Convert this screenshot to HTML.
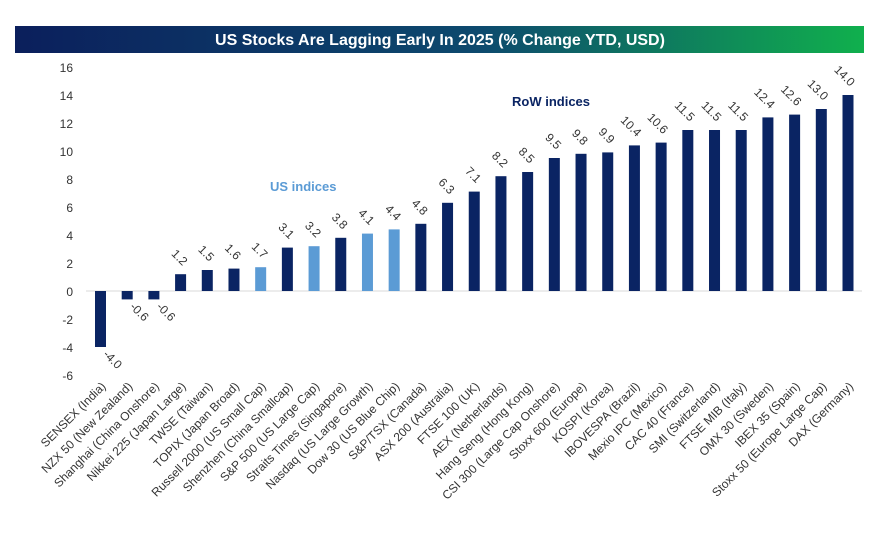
<!DOCTYPE html>
<html><head><meta charset="utf-8"><style>
body{margin:0;background:#fff;}
svg{display:block;font-family:"Liberation Sans",sans-serif;}
</style></head><body>
<svg id="chart" width="892" height="550">
<defs><linearGradient id="tg" x1="0" x2="1" y1="0" y2="0"><stop offset="0" stop-color="#0b1f5c"/><stop offset="0.55" stop-color="#0d4a6e"/><stop offset="1" stop-color="#10b04d"/></linearGradient></defs>
<rect x="15" y="26" width="849" height="27" fill="url(#tg)"/>
<text x="440" y="45" text-anchor="middle" fill="#fff" font-size="16" font-weight="bold">US Stocks Are Lagging Early In 2025 (% Change YTD, USD)</text>
<text x="270" y="191" fill="#5b9bd5" font-size="13" font-weight="bold">US indices</text>
<text x="512" y="106" fill="#0a2463" font-size="13" font-weight="bold">RoW indices</text>
<g id="axis"></g><g id="bars"></g>
</svg>
<script>
const categories=["SENSEX (India)","NZX 50 (New Zealand)","Shanghai (China Onshore)","Nikkei 225 (Japan Large)","TWSE (Taiwan)","TOPIX (Japan Broad)","Russell 2000 (US Small Cap)","Shenzhen (China Smallcap)","S&P 500 (US Large Cap)","Straits Times (Singapore)","Nasdaq (US Large Growth)","Dow 30 (US Blue Chip)","S&P/TSX (Canada)","ASX 200 (Australia)","FTSE 100 (UK)","AEX (Netherlands)","Hang Seng (Hong Kong)","CSI 300 (Large Cap Onshore)","Stoxx 600 (Europe)","KOSPI (Korea)","IBOVESPA (Brazil)","Mexio IPC (Mexico)","CAC 40 (France)","SMI (Switzerland)","FTSE MIB (Italy)","OMX 30 (Sweden)","IBEX 35 (Spain)","Stoxx 50 (Europe Large Cap)","DAX (Germany)"];
const values=[-4.0,-0.6,-0.6,1.2,1.5,1.6,1.7,3.1,3.2,3.8,4.1,4.4,4.8,6.3,7.1,8.2,8.5,9.5,9.8,9.9,10.4,10.6,11.5,11.5,11.5,12.4,12.6,13.0,14.0];
const isUS=[0,0,0,0,0,0,1,0,1,0,1,1,0,0,0,0,0,0,0,0,0,0,0,0,0,0,0,0,0];
const yTicks=[-6,-4,-2,0,2,4,6,8,10,12,14,16];
const NS="http://www.w3.org/2000/svg";
const y0=291,ppu=14,x0=100.5;
const step=(848-100.5)/(categories.length-1);
const y=v=>y0-v*ppu, x=i=>x0+i*step;
const ax=document.getElementById('axis'),bg=document.getElementById('bars');
function mk(t,a,p){const e=document.createElementNS(NS,t);for(const k in a)e.setAttribute(k,a[k]);p.appendChild(e);return e;}
yTicks.forEach(t=>{const e=mk('text',{x:73,y:y(t)+5,'text-anchor':'end','font-size':12,fill:'#333'},ax);e.textContent=t;

});
const zl=mk('line',{x1:86,x2:862,y1:y0,y2:y0,stroke:'#d9d9d9','stroke-width':1},ax);


categories.forEach((c,i)=>{const v=values[i],cx=x(i);
const r=mk('rect',{x:cx-5.5,y:Math.min(y(v),y0),width:11,height:Math.abs(y(v)-y0),fill:isUS[i]?'#5b9bd5':'#0a2463'},bg);


const ly=v>=0?y(v)-8:y(v)+8;
const vl=mk('text',{x:0,y:0,'text-anchor':v>=0?'end':'start','font-size':12,fill:'#333',transform:`translate(${cx+2},${ly}) rotate(45)`},bg);
vl.textContent=v.toFixed(1);


const cl=mk('text',{x:0,y:0,'text-anchor':'end','font-size':12,fill:'#333',transform:`translate(${cx+6},${y(-6)+12}) rotate(-45)`},bg);
cl.textContent=c;

});
</script>
</body></html>
